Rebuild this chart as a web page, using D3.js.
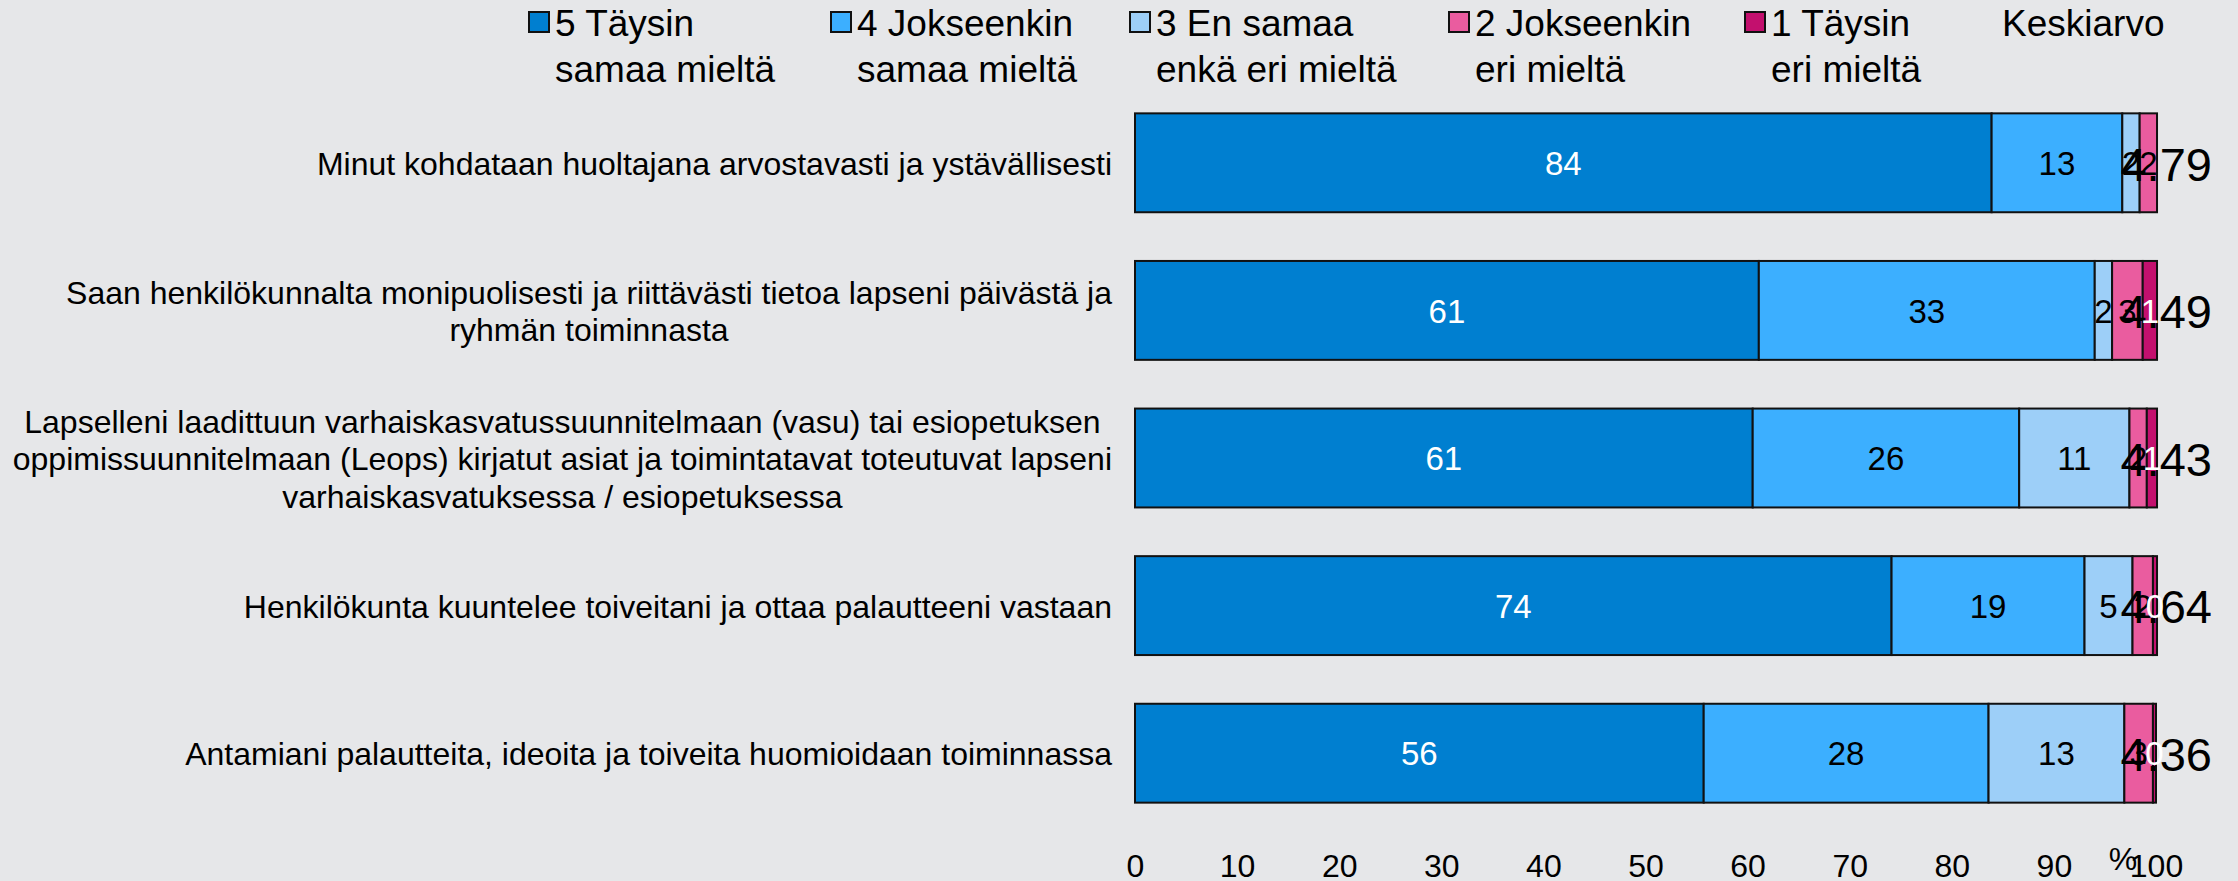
<!DOCTYPE html>
<html>
<head>
<meta charset="utf-8">
<script src="https://cdn.jsdelivr.net/npm/d3@7"></script>
<style>
  body { margin: 0; background: #e6e7e9; }
  svg { display: block; font-family: "Liberation Sans", Arial, sans-serif; }
</style>
</head>
<body>
<svg id="chart"></svg>
<script>
// Stacked 100% bar chart of survey answers, with mean per statement

const categories = [
  "Minut kohdataan huoltajana arvostavasti ja ystävällisesti",
  "Saan henkilökunnalta monipuolisesti ja riittävästi tietoa lapseni päivästä ja\nryhmän toiminnasta",
  "Lapselleni laadittuun varhaiskasvatussuunnitelmaan (vasu) tai esiopetuksen\noppimissuunnitelmaan (Leops) kirjatut asiat ja toimintatavat toteutuvat lapseni\nvarhaiskasvatuksessa / esiopetuksessa",
  "Henkilökunta kuuntelee toiveitani ja ottaa palautteeni vastaan",
  "Antamiani palautteita, ideoita ja toiveita huomioidaan toiminnassa"
];

const seriesNames = [
  "5 Täysin\nsamaa mieltä",
  "4 Jokseenkin\nsamaa mieltä",
  "3 En samaa\nenkä eri mieltä",
  "2 Jokseenkin\neri mieltä",
  "1 Täysin\neri mieltä"
];
const meanName = "Keskiarvo";

const s5 = [83.9, 61.1, 60.5, 74.1, 55.7];
const s4 = [12.8, 32.9, 26.1, 18.9, 27.9];
const s3 = [1.7, 1.7, 10.8, 4.7, 13.3];
const s2 = [1.7, 3.0, 1.7, 2.0, 2.8];
const s1 = [0, 1.4, 1.0, 0.4, 0.3];
const means = [4.79, 4.49, 4.43, 4.64, 4.36];

const xTicks = [0, 10, 20, 30, 40, 50, 60, 70, 80, 90, 100];

const width = 2238, height = 881;
const colors = ["#007fd0", "#3cafff", "#9dcff8", "#ea5c9f", "#c3106e"];
const labelColors = ["#fff", "#000", "#000", "#000", "#fff"];

const svg = d3.select("#chart")
  .attr("width", width)
  .attr("height", height);

svg.append("rect")
  .attr("width", width)
  .attr("height", height)
  .attr("fill", "#e6e7e9");

// build rows for the stack
const keys = ["s5", "s4", "s3", "s2", "s1"];
const rows = categories.map((c, i) => ({
  cat: c, s5: s5[i], s4: s4[i], s3: s3[i], s2: s2[i], s1: s1[i], mean: means[i]
}));
const stacked = d3.stack().keys(keys)(rows);

const x = d3.scaleLinear()
  .domain([0, 100])
  .range([1135, 2156]);

const y = d3.scaleBand()
  .domain(categories)
  .range([89, 827])
  .paddingInner(0.33)
  .paddingOuter(0.165);

// bars
const layers = svg.append("g")
  .selectAll("g")
  .data(stacked)
  .join("g")
  .attr("fill", (d, i) => colors[i]);

layers.selectAll("rect")
  .data(d => d)
  .join("rect")
  .attr("x", d => x(d[0]))
  .attr("y", d => y(d.data.cat))
  .attr("width", d => x(d[1]) - x(d[0]))
  .attr("height", y.bandwidth())
  .attr("stroke", "#111")
  .attr("stroke-width", 2);

// mean labels (drawn under the segment labels)
svg.append("g")
  .selectAll("text")
  .data(rows)
  .join("text")
  .attr("x", x(101))
  .attr("y", d => y(d.cat) + y.bandwidth() / 2)
  .attr("dy", "0.38em")
  .attr("text-anchor", "middle")
  .style("font-size", "47px")
  .attr("fill", "#000")
  .text(d => d3.format(".2f")(d.mean));

// segment labels
stacked.forEach((layer, i) => {
  svg.append("g")
    .selectAll("text")
    .data(layer.filter(d => d[1] - d[0] > 0))
    .join("text")
    .attr("x", d => (x(d[0]) + x(d[1])) / 2)
    .attr("y", d => y(d.data.cat) + y.bandwidth() / 2)
    .attr("dy", "0.37em")
    .attr("text-anchor", "middle")
    .style("font-size", "33px")
    .attr("fill", labelColors[i])
    .text(d => d3.format(".0f")(d[1] - d[0]));
});

// category labels: lines centred on each other, block right-aligned
const catG = svg.append("g");
categories.forEach(c => {
  const lines = c.split("\n");
  const t = catG.append("text")
    .attr("text-anchor", "middle")
    .style("font-size", "32px")
    .attr("fill", "#000");
  const cy = y(c) + y.bandwidth() / 2;
  const spans = lines.map((line, i) => t.append("tspan")
    .attr("y", cy + (i - (lines.length - 1) / 2) * 37.5 + 12)
    .text(line));
  const maxW = d3.max(spans, s => s.node().getComputedTextLength());
  spans.forEach(s => s.attr("x", 1112 - maxW / 2));
});

// x axis (labels only)
const axis = svg.append("g")
  .attr("transform", "translate(0,851)")
  .call(d3.axisBottom(x).tickValues(xTicks).tickSize(0).tickPadding(3));
axis.select(".domain").remove();
axis.selectAll("text")
  .style("font-size", "32px")
  .style("font-family", "Liberation Sans, Arial, sans-serif")
  .attr("fill", "#000");

svg.append("text")
  .attr("x", x(100) - 33)
  .attr("y", 870)
  .attr("text-anchor", "middle")
  .style("font-size", "32px")
  .text("%");

// legend
const legendX = [528, 830, 1129, 1448, 1744];
const legend = svg.append("g");
seriesNames.forEach((name, i) => {
  const item = legend.append("g")
    .attr("transform", `translate(${legendX[i]},0)`);
  item.append("rect")
    .attr("x", 1)
    .attr("y", 12)
    .attr("width", 20)
    .attr("height", 20)
    .attr("fill", colors[i])
    .attr("stroke", "#111")
    .attr("stroke-width", 2);
  name.split("\n").forEach((line, j) => {
    item.append("text")
      .attr("x", 27)
      .attr("y", 36 + j * 46)
      .style("font-size", "37px")
      .text(line);
  });
});
legend.append("text")
  .attr("x", 2002)
  .attr("y", 36)
  .style("font-size", "37px")
  .text(meanName);
</script>
</body>
</html>
